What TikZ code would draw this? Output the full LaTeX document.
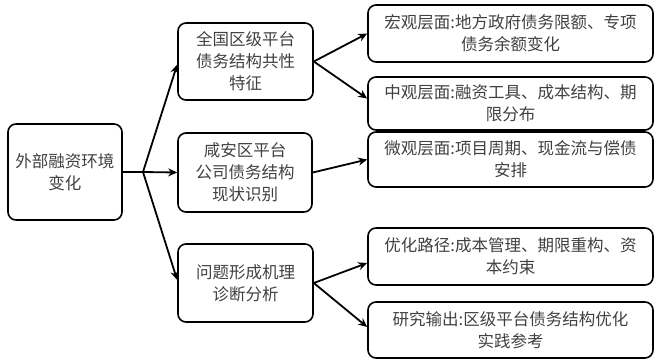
\documentclass[tikz,border=0pt]{standalone}
\usepackage{fontspec}
\setmainfont{Noto Sans CJK SC}
\usetikzlibrary{arrows.meta}
\definecolor{txt}{HTML}{404040}
\tikzset{
  box/.style={draw=black, line width=1.6pt, rounded corners=8pt, align=center,
    text=txt, font=\fontsize{16.5}{22}\selectfont, inner sep=0pt},
  conn/.style={line width=1.8pt, -{Stealth[length=9pt,width=8pt]}},
  plain/.style={line width=1.8pt}
}
\begin{document}
\begin{tikzpicture}[x=1pt,y=-1pt]
\useasboundingbox (0,0) rectangle (657,362);
\node[box, minimum width=114pt, minimum height=96pt] (L) at (65,172) {外部融资环境\\变化};
\node[box, minimum width=135pt, minimum height=77pt] (b1) at (245.5,61.5) {全国区级平台\\债务结构共性\\特征};
\node[box, minimum width=134pt, minimum height=79pt] (b2) at (245,172.5) {咸安区平台\\公司债务结构\\现状识别};
\node[box, minimum width=135pt, minimum height=78pt] (b3) at (245.5,283) {问题形成机理\\诊断分析};
\node[box, minimum width=285pt, minimum height=57pt] (A) at (510.5,33.5) {宏观层面:地方政府债务限额、专项\\债务余额变化};
\node[box, minimum width=285pt, minimum height=53pt] (B) at (510.5,103.5) {中观层面:融资工具、成本结构、期\\限分布};
\node[box, minimum width=285pt, minimum height=55pt] (C) at (510.5,159.5) {微观层面:项目周期、现金流与偿债\\安排};
\node[box, minimum width=285pt, minimum height=57pt] (D) at (510.5,256.5) {优化路径:成本管理、期限重构、资\\本约束};
\node[box, minimum width=285pt, minimum height=56pt] (E) at (510.5,330) {研究输出:区级平台债务结构优化\\实践参考};
\coordinate (br) at (143,172);
\draw[plain] (L.east) -- (br);
\draw[conn] (br) -- ([yshift=-3pt]b1.west);
\draw[conn] (br) -- (b2.west);
\draw[conn] (br) -- ([yshift=3pt]b3.west);
\draw[conn] (b1.east) -- (A.west);
\draw[conn] (b1.east) -- ([yshift=5pt]B.west);
\draw[conn] (b2.east) -- (C.west);
\draw[conn] (b3.east) -- ([yshift=-6.5pt]D.west);
\draw[conn] (b3.east) -- ([yshift=3pt]E.west);
\end{tikzpicture}
\end{document}
